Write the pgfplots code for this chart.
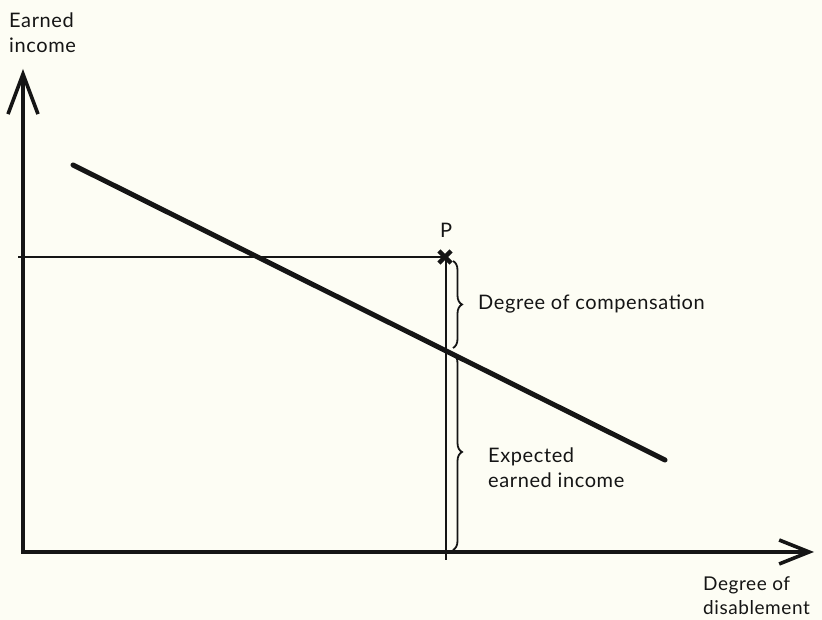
\documentclass[border=0pt]{standalone}
\usepackage{pgfplots}
\pgfplotsset{compat=1.18}
\usepackage{fontspec}
\setmainfont{Lato}[LetterSpace=3]
\usetikzlibrary{arrows.meta,decorations.pathreplacing}
\definecolor{bg}{HTML}{FDFDF4}
\definecolor{ink}{HTML}{151515}
\begin{document}
\begin{tikzpicture}
\begin{axis}[scale only axis, width=822pt, height=620pt,
  xmin=0, xmax=822, ymin=0, ymax=620, hide axis, clip=false]
\fill[bg] (axis cs:0,0) rectangle (axis cs:822,620);
% axes
\addplot[ink, line width=3.6pt, -{Straight Barb[length=40pt,width=30pt]}] coordinates {(23,66) (23,551)};
\addplot[ink, line width=3.6pt, -{Straight Barb[length=30pt,width=24pt]}] coordinates {(21,68) (814,68)};
% guide lines
\addplot[ink, line width=2.3pt] coordinates {(18,363) (446,363)};
\addplot[ink, line width=2.3pt] coordinates {(446,363) (446,60)};
% diagonal
\addplot[ink, line width=5pt, line cap=round] coordinates {(73,455) (665,160)};
% point P
\addplot[ink, only marks, mark=x, mark size=8.5pt, line width=4.5pt] coordinates {(445,363)};
% braces
\draw[ink, line width=1.8pt, decorate, decoration={brace, amplitude=9pt}] (axis cs:453,359) -- (axis cs:453,272);
\draw[ink, line width=1.8pt, decorate, decoration={brace, amplitude=9pt}] (axis cs:453,266) -- (axis cs:453,70);
% labels
\begin{scope}[font=\fontsize{20}{24}\selectfont, text=ink, inner sep=0pt]
\node[anchor=base] at (axis cs:446,382) {P};
\node[anchor=base west] at (axis cs:9,592) {Earned};
\node[anchor=base west] at (axis cs:9,567) {income};
\node[anchor=base west] at (axis cs:478,310) {Degree of compensation};
\node[anchor=base west] at (axis cs:488,157) {Expected};
\node[anchor=base west] at (axis cs:488,132) {earned income};
\end{scope}
\begin{scope}[font=\fontsize{19}{23}\selectfont, text=ink, inner sep=0pt]
\node[anchor=base west] at (axis cs:703,29) {Degree of};
\node[anchor=base west] at (axis cs:703,5) {disablement};
\end{scope}
\end{axis}
\end{tikzpicture}
\end{document}
